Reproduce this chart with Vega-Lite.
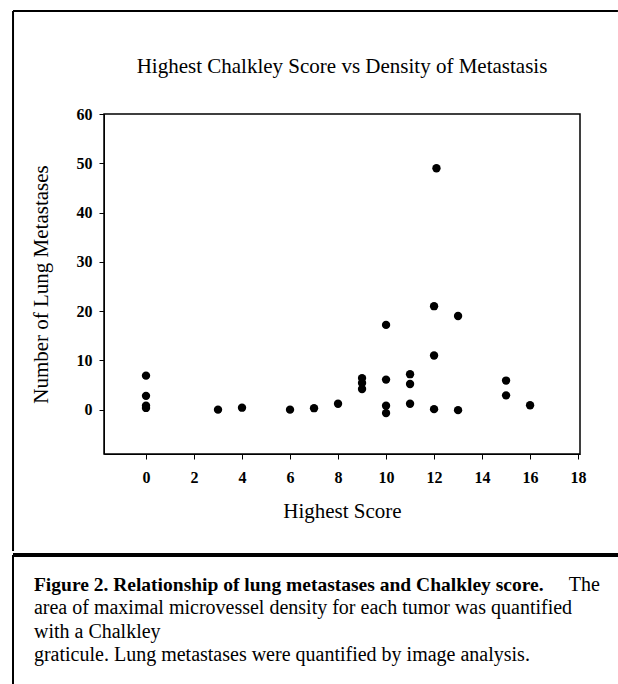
{
  "$schema": "https://vega.github.io/schema/vega-lite/v6.json",
  "background": "white",
  "padding": {"left": 10, "top": 9, "right": 0, "bottom": 0},
  "spacing": 0,
  "config": {
    "font": "Liberation Serif",
    "view": {"stroke": null},
    "axis": {
      "labelFont": "Liberation Serif",
      "titleFont": "Liberation Serif",
      "labelColor": "black",
      "titleColor": "black",
      "domainColor": "black",
      "tickColor": "black",
      "grid": false,
      "titleFontWeight": "normal",
      "tickSize": 5
    }
  },
  "vconcat": [
    {
      "width": 476,
      "height": 340,
      "title": {
        "text": "Highest Chalkley Score vs Density of Metastasis",
        "fontSize": 21,
        "fontWeight": "normal",
        "font": "Liberation Serif",
        "color": "black",
        "frame": "group",
        "anchor": "middle",
        "offset": -67
      },
      "view": {"stroke": "black", "strokeWidth": 1.5},
      "layer": [
        {
          "data": {
            "values": [
              {"score": 0, "mets": 6.9},
              {"score": 0, "mets": 2.8},
              {"score": 0, "mets": 0.8},
              {"score": 0, "mets": 0.35},
              {"score": 3, "mets": 0},
              {"score": 4, "mets": 0.4},
              {"score": 6, "mets": 0},
              {"score": 7, "mets": 0.3},
              {"score": 8, "mets": 1.2},
              {"score": 9, "mets": 6.4},
              {"score": 9, "mets": 5.4},
              {"score": 9, "mets": 4.2},
              {"score": 10, "mets": 17.2},
              {"score": 10, "mets": 6.1},
              {"score": 10, "mets": 0.8},
              {"score": 10, "mets": -0.7},
              {"score": 11, "mets": 7.2},
              {"score": 11, "mets": 5.2},
              {"score": 11, "mets": 1.2},
              {"score": 12.1, "mets": 49},
              {"score": 12, "mets": 21},
              {"score": 12, "mets": 11},
              {"score": 12, "mets": 0.1},
              {"score": 13, "mets": 19},
              {"score": 13, "mets": -0.1},
              {"score": 15, "mets": 5.9},
              {"score": 15, "mets": 2.9},
              {"score": 16, "mets": 0.9}
            ]
          },
          "mark": {"type": "point", "filled": true, "color": "black", "opacity": 1, "size": 70},
          "encoding": {
            "x": {
              "field": "score",
              "type": "quantitative",
              "scale": {"domain": [-1.75, 18.08], "nice": false, "zero": false},
              "axis": {
                "title": "Highest Score",
                "values": [0, 2, 4, 6, 8, 10, 12, 14, 16, 18],
                "labelFontSize": 16,
                "labelFontWeight": "bold",
                "titleFontSize": 21,
                "labelPadding": 10,
                "titlePadding": 15
              }
            },
            "y": {
              "field": "mets",
              "type": "quantitative",
              "scale": {"domain": [-9, 60], "nice": false, "zero": false},
              "axis": {
                "title": "Number of Lung Metastases",
                "values": [0, 10, 20, 30, 40, 50, 60],
                "labelFontSize": 16,
                "labelFontWeight": "bold",
                "titleFontSize": 21,
                "labelPadding": 7,
                "titlePadding": 25
              }
            }
          }
        },
        {
          "data": {"values": [{}]},
          "mark": {"type": "rule", "color": "black", "strokeWidth": 2, "clip": false},
          "encoding": {
            "x": {"datum": -5.54, "type": "quantitative", "scale": {"domain": [-1.75, 18.08], "nice": false, "zero": false}},
            "y": {"datum": 80.9, "type": "quantitative", "scale": {"domain": [-9, 60], "nice": false, "zero": false}},
            "y2": {"datum": -28.68}
          }
        },
        {
          "data": {"values": [{}]},
          "mark": {"type": "rule", "color": "black", "strokeWidth": 2, "clip": false},
          "encoding": {
            "x": {"datum": -5.54, "type": "quantitative", "scale": {"domain": [-1.75, 18.08], "nice": false, "zero": false}},
            "x2": {"datum": 19.66},
            "y": {"datum": 80.9, "type": "quantitative", "scale": {"domain": [-9, 60], "nice": false, "zero": false}}
          }
        }
      ]
    },
    {
      "width": 515,
      "height": 131,
      "view": {"stroke": null},
      "layer": [
        {
          "data": {"values": [{}]},
          "mark": {"type": "rule", "color": "black", "strokeWidth": 4},
          "encoding": {
            "x": {"datum": -0.1767, "type": "quantitative", "scale": {"domain": [0, 1], "nice": false, "zero": false}, "axis": null},
            "x2": {"datum": 1},
            "y": {"datum": -0.288, "type": "quantitative", "scale": {"domain": [-0.288, 5.334], "nice": false, "zero": false, "reverse": true}, "axis": null}
          }
        },
        {
          "data": {"values": [{}]},
          "mark": {"type": "rule", "color": "black", "strokeWidth": 2},
          "encoding": {
            "x": {"datum": -0.1767, "type": "quantitative", "scale": {"domain": [0, 1], "nice": false, "zero": false}, "axis": null},
            "y": {"datum": -0.288, "type": "quantitative", "scale": {"domain": [-0.288, 5.334], "nice": false, "zero": false, "reverse": true}, "axis": null},
            "y2": {"datum": 5.334}
          }
        },
        {
          "data": {"values": [{"line": 1, "text": "Figure 2. Relationship of lung metastases and Chalkley score."}]},
          "mark": {"type": "text", "align": "left", "baseline": "middle", "fontWeight": "bold", "fontSize": 19.5, "font": "Liberation Serif", "color": "black"},
          "encoding": {
            "x": {"datum": -0.136, "type": "quantitative", "scale": {"domain": [0, 1], "nice": false, "zero": false}, "axis": null},
            "y": {"field": "line", "type": "quantitative", "scale": {"domain": [-0.288, 5.334], "nice": false, "zero": false, "reverse": true}, "axis": null},
            "text": {"field": "text"}
          }
        },
        {
          "data": {"values": [{"line": 1, "text": "The"}]},
          "mark": {"type": "text", "align": "right", "baseline": "middle", "fontWeight": "normal", "fontSize": 20, "font": "Liberation Serif", "color": "black"},
          "encoding": {
            "x": {"datum": 0.963, "type": "quantitative", "scale": {"domain": [0, 1], "nice": false, "zero": false}, "axis": null},
            "y": {"field": "line", "type": "quantitative", "scale": {"domain": [-0.288, 5.334], "nice": false, "zero": false, "reverse": true}, "axis": null},
            "text": {"field": "text"}
          }
        },
        {
          "data": {
            "values": [
              {"line": 2, "text": "area of maximal microvessel density for each tumor was quantified"},
              {"line": 3, "text": "with a Chalkley"},
              {"line": 4, "text": "graticule. Lung metastases were quantified by image analysis."}
            ]
          },
          "mark": {"type": "text", "align": "left", "baseline": "middle", "fontWeight": "normal", "fontSize": 20, "font": "Liberation Serif", "color": "black"},
          "encoding": {
            "x": {"datum": -0.136, "type": "quantitative", "scale": {"domain": [0, 1], "nice": false, "zero": false}, "axis": null},
            "y": {"field": "line", "type": "quantitative", "scale": {"domain": [-0.288, 5.334], "nice": false, "zero": false, "reverse": true}, "axis": null},
            "text": {"field": "text"}
          }
        }
      ]
    }
  ]
}
